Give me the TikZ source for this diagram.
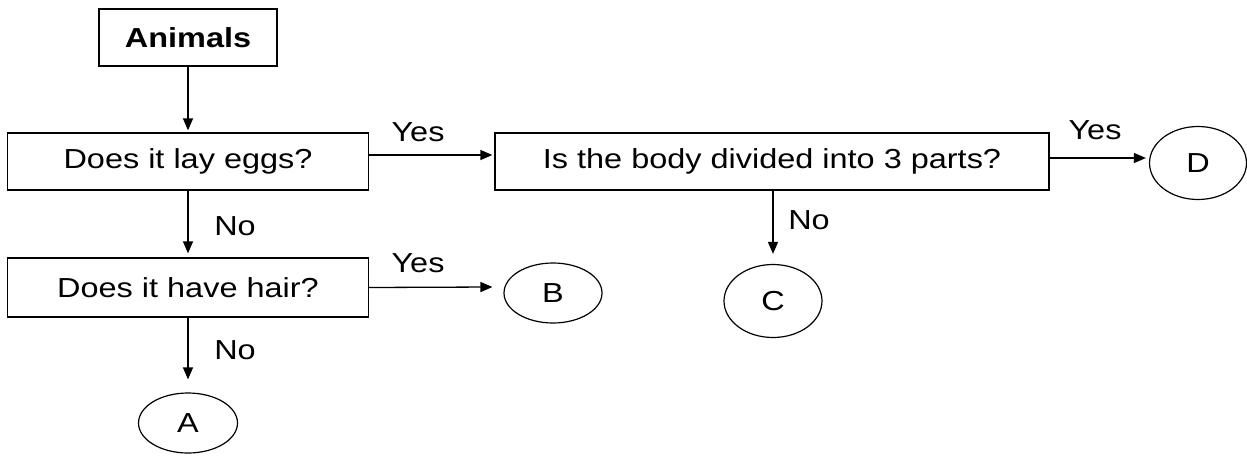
\documentclass[tikz,border=0pt]{standalone}
\usepackage{fontspec}
\setmainfont{Liberation Sans}
\newfontfamily\lab[FakeStretch=1.18]{Liberation Sans}
\usetikzlibrary{arrows.meta,shapes.geometric}
\begin{document}
\begin{tikzpicture}[x=1pt,y=-1pt,
  font=\lab\fontsize{27.5}{30}\selectfont,
  box/.style={draw,line width=1.3pt,inner sep=0pt,rectangle},
  leaf/.style={draw,line width=1.2pt,ellipse,inner sep=0pt},
  arr/.style={line width=1.3pt,-{Triangle[length=12pt,width=10pt]}},
  lbl/.style={inner sep=0pt}]
\useasboundingbox (0,0) rectangle (1247,455);
\node[box,minimum width=178pt,minimum height=57pt] (animals) at (188,37.5) {\bfseries Animals};
\node[box,minimum width=361pt,minimum height=57pt] (eggs) at (188,161.5) {Does it lay eggs?};
\node[box,minimum width=361pt,minimum height=59pt] (hair) at (188,287.5) {Does it have hair?};
\node[box,minimum width=554pt,minimum height=57pt] (body) at (772,161.5) {Is the body divided into 3 parts?};
\node[leaf,minimum width=99pt,minimum height=60pt] (A) at (188,423) {A};
\node[leaf,minimum width=98pt,minimum height=60pt] (B) at (553,293) {B};
\node[leaf,minimum width=98pt,minimum height=73pt] (C) at (773,301) {C};
\node[leaf,minimum width=97pt,minimum height=73pt] (D) at (1198,163) {D};
\draw[arr] (animals.south) -- ([yshift=2pt]eggs.north);
\draw[arr] ([yshift=6.5pt]eggs.east) -- ([yshift=6.5pt,xshift=-2pt]body.west);
\draw[arr] (eggs.south) -- ([yshift=4pt]hair.north);
\draw[arr] (hair.east) -- ([xshift=-11pt,yshift=6pt]B.west);
\draw[arr] (hair.south) -- ([yshift=13pt]A.north);
\draw[arr] ([xshift=1pt]body.south) -- ([yshift=10pt]C.north);
\draw[arr] ([yshift=3.5pt]body.east) -- ([xshift=-3pt,yshift=5pt]D.west);
\node[lbl] (y1) at (418,132) {Yes};
\node[lbl] (y2) at (418,263) {Yes};
\node[lbl] (y3) at (1095,130) {Yes};
\node[lbl] (n1) at (235,226) {No};
\node[lbl] (n2) at (235,350) {No};
\node[lbl] (n3) at (809,220) {No};
\end{tikzpicture}
\end{document}
